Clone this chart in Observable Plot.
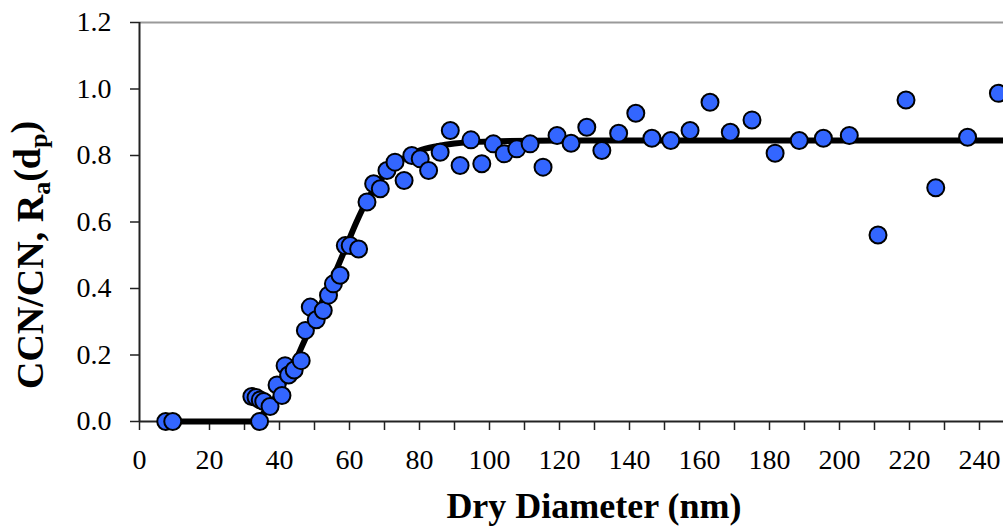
<!DOCTYPE html>
<html>
<head>
<meta charset="utf-8">
<script src="https://cdn.jsdelivr.net/npm/d3@7"></script>
<script src="https://cdn.jsdelivr.net/npm/@observablehq/plot@0.6"></script>
<style>
  html, body { margin: 0; padding: 0; background: #fff; overflow: hidden; width: 1003px; height: 527px; }
  #chart { width: 1003px; height: 527px; overflow: hidden; }
  #chart svg { display: block; max-width: none !important; width: 1050px; height: 527px; }
</style>
</head>
<body>
<div id="chart"></div>
<script>
// Measured activation ratio points (dry diameter nm, CCN/CN)
const diam = [7.5, 9.5, 32.1, 33.3, 34.3, 34.5, 35.5, 37.3, 39.3, 40.7, 41.6, 42.6, 44.2, 46.2,
  47.4, 48.8, 50.5, 52.5, 54, 55.4, 57.3, 58.8, 60.2, 62.6, 65, 66.9, 68.8, 70.7, 73, 75.6,
  77.8, 80.2, 82.6, 85.9, 88.8, 91.6, 94.7, 97.8, 101.1, 104.2, 107.8, 111.6, 115.3, 119.3,
  123.3, 127.8, 132.1, 136.9, 141.8, 146.4, 151.8, 157.3, 163, 168.8, 175, 181.6, 188.5,
  195.4, 202.8, 211, 219, 227.5, 236.6, 245.4];
const ratio = [0, 0, 0.075, 0.072, 0.0, 0.065, 0.06, 0.045, 0.11, 0.078, 0.168, 0.14, 0.155, 0.183,
  0.274, 0.344, 0.306, 0.334, 0.38, 0.414, 0.44, 0.529, 0.529, 0.519, 0.66, 0.715, 0.70, 0.755, 0.78, 0.725,
  0.80, 0.79, 0.755, 0.81, 0.875, 0.77, 0.847, 0.775, 0.835, 0.805, 0.82, 0.835, 0.765, 0.86,
  0.837, 0.885, 0.815, 0.867, 0.927, 0.852, 0.845, 0.875, 0.96, 0.87, 0.907, 0.807, 0.845,
  0.852, 0.86, 0.561, 0.967, 0.703, 0.855, 0.987];

// Fitted curve
const fitD = [7, 33, 35, 38, 41, 44, 47, 50, 53, 56, 59, 62, 65, 68, 71, 74, 77, 80, 85, 90, 100, 120, 260];
const fitR = [0, 0, 0.02, 0.06, 0.11, 0.17, 0.24, 0.31, 0.38, 0.45, 0.525, 0.60, 0.665, 0.715, 0.752, 0.78, 0.80, 0.815, 0.828, 0.836, 0.842, 0.845, 0.845];

const xTicks = [0, 10, 20, 30, 40, 50, 60, 70, 80, 90, 100, 110, 120, 130, 140, 150, 160, 170, 180, 190, 200, 210, 220, 230, 240, 250];
const xLabels = [0, 20, 40, 60, 80, 100, 120, 140, 160, 180, 200, 220, 240];
const yTicks = [0, 0.2, 0.4, 0.6, 0.8, 1.0, 1.2];

const points = diam.map((d, i) => ({d, r: ratio[i]}));
const fit = fitD.map((d, i) => ({d, r: fitR[i]}));

const chart = Plot.plot({
  width: 1050,
  height: 527,
  marginLeft: 139,
  marginRight: 1,
  marginTop: 22,
  marginBottom: 106,
  x: {domain: [0, 260]},
  y: {domain: [0, 1.2]},
  style: {fontFamily: "'Liberation Serif', 'Times New Roman', serif", fontSize: "28px", color: "#000", background: "#fff", maxWidth: "none"},
  marks: [
    Plot.ruleY([1.2], {stroke: "#9a9a9a", strokeWidth: 2}),
    Plot.axisX({ticks: xTicks, tickSize: 9, tickPadding: 19, tickFormat: d => xLabels.includes(d) ? String(d) : "", label: null, stroke: "#222", strokeWidth: 1.5, fill: "#000"}),
    Plot.axisY({ticks: yTicks, tickSize: 9, tickPadding: 19, tickFormat: d3.format(".1f"), label: null, stroke: "#222", strokeWidth: 1.5, fill: "#000"}),
    Plot.ruleX([0], {stroke: "#222", strokeWidth: 2}),
    Plot.ruleY([0], {stroke: "#222", strokeWidth: 2}),
    Plot.line(fit, {x: "d", y: "r", stroke: "#000", strokeWidth: 6, curve: "monotone-x"}),
    Plot.dot(points, {x: "d", y: "r", r: 8.5, fill: "#3366FF", stroke: "#000", strokeWidth: 2})
  ]
});

const svg = d3.select(chart);
// X axis title
svg.append("text")
  .attr("x", 594).attr("y", 518)
  .attr("text-anchor", "middle")
  .attr("font-family", "'Liberation Serif', 'Times New Roman', serif")
  .attr("font-weight", "bold").attr("font-size", 36).attr("fill", "#000")
  .text("Dry Diameter (nm)");
// Y axis title with subscripts
const yt = svg.append("text")
  .attr("transform", "translate(43,255) rotate(-90)")
  .attr("text-anchor", "middle")
  .attr("font-family", "'Liberation Serif', 'Times New Roman', serif")
  .attr("font-weight", "bold").attr("font-size", 38).attr("fill", "#000");
yt.append("tspan").text("CCN/CN, R");
yt.append("tspan").attr("dy", "0.25em").attr("font-size", "26").text("a");
yt.append("tspan").attr("dy", "-0.25em").text("(d");
yt.append("tspan").attr("dy", "0.25em").attr("font-size", "26").text("p");
yt.append("tspan").attr("dy", "-0.25em").text(")");

document.getElementById("chart").appendChild(chart);
</script>
</body>
</html>
